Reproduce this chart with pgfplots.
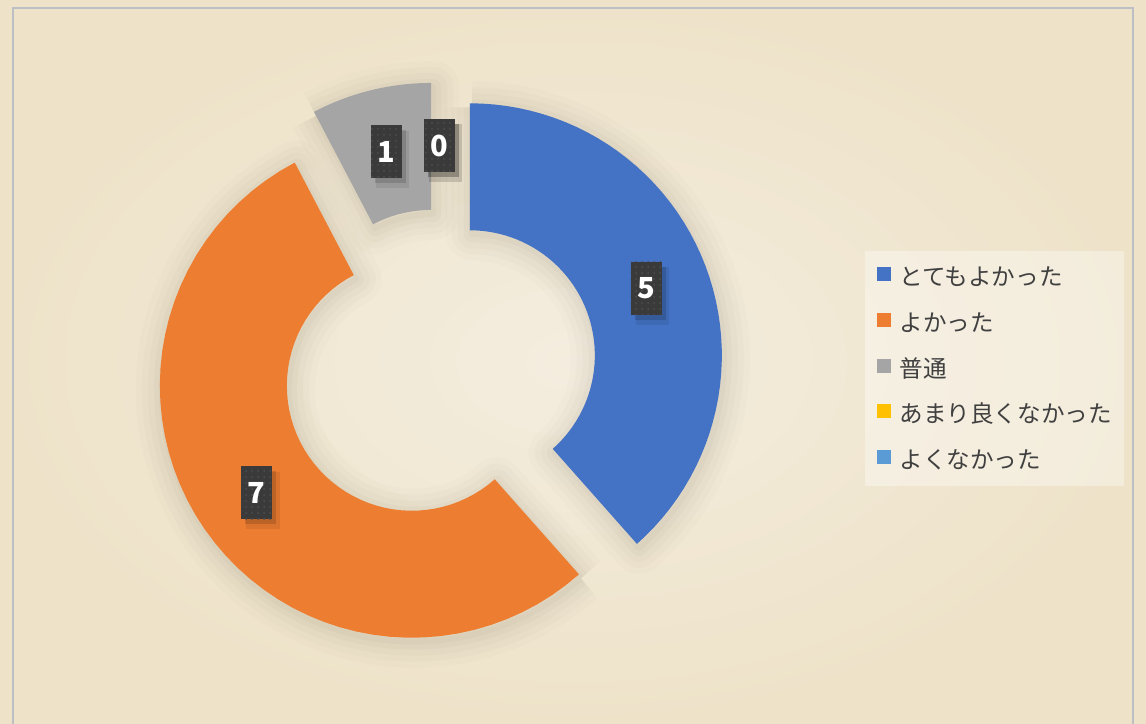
\documentclass[border=0pt]{standalone}
\usepackage{pgfplots}
\pgfplotsset{compat=1.18}
\usepackage{pgfplotstable}
\usepackage{fontspec}
\newfontfamily\jp{Noto Sans CJK JP}
\usetikzlibrary{shadows,patterns}
\definecolor{cblue}{HTML}{4472C4}
\definecolor{corange}{HTML}{ED7D31}
\definecolor{cgray}{HTML}{A5A5A5}
\definecolor{cyellow}{HTML}{FFC000}
\definecolor{clblue}{HTML}{5B9BD5}
\definecolor{bgbase}{HTML}{EEE3C9}
\definecolor{bglight}{HTML}{F4EDDF}
\definecolor{framegray}{HTML}{BCC0C4}
\definecolor{lblgray}{HTML}{3A3A3A}
\definecolor{dotgray}{HTML}{4E4E4E}
\definecolor{textgray}{HTML}{404040}
\definecolor{shcol}{HTML}{6B6250}

\pgfplotstableread{
idx value
0 5
1 7
2 1
3 0
4 0
}\datatable

% donut sector: [options]{start angle}{end angle}{shift x}{shift y}
% centre (439,356), outer radius 252, inner radius 125, explosion 33
\newcommand\sector[5][]{%
 \addplot[forget plot,#1,variable=\t,samples at={0,1,...,102}]
 ({#4+439+33*cos((#2+#3)/2)+ifthenelse(or(\t<50.5,\t>101.5),252,125)*cos(ifthenelse(\t<50.5,#2+(#3-(#2))*\t/50,ifthenelse(\t<101.5,#3-(#3-(#2))*(\t-51)/50,#2)))},
  {#5+356+33*sin((#2+#3)/2)+ifthenelse(or(\t<50.5,\t>101.5),252,125)*sin(ifthenelse(\t<50.5,#2+(#3-(#2))*\t/50,ifthenelse(\t<101.5,#3-(#3-(#2))*(\t-51)/50,#2)))});
}
\newcommand\sectorshadow[2]{%
 \sector[draw=shcol,line width=26pt,line join=round,draw opacity=0.018]{#1}{#2}{2}{-4}
 \sector[draw=shcol,line width=20pt,line join=round,draw opacity=0.022]{#1}{#2}{2}{-4}
 \sector[draw=shcol,line width=14pt,line join=round,draw opacity=0.028]{#1}{#2}{2}{-4}
 \sector[draw=shcol,line width=8pt,line join=round,draw opacity=0.035]{#1}{#2}{2}{-4}
 \sector[draw=shcol,line width=3pt,line join=round,draw opacity=0.04]{#1}{#2}{2}{-4}
}

\tikzset{lbl/.style={fill=lblgray,text=white,font=\jp\bfseries\fontsize{14.5}{15}\selectfont,
  minimum width=15.5pt,minimum height=26.5pt,inner sep=0pt,
  drop shadow={shadow xshift=3pt,shadow yshift=-3.5pt,shadow scale=1.08,opacity=0.08,fill=black},
  drop shadow={shadow xshift=2pt,shadow yshift=-2.5pt,opacity=0.14,fill=black},
  postaction={pattern=dots,pattern color=dotgray}}}

\begin{document}
\begin{tikzpicture}
\useasboundingbox (0,0) rectangle (573pt,361.5pt);
\fill[bgbase] (0,0) rectangle (573pt,361.5pt);
\shade[inner color=bglight,outer color=bgbase] (0,0) rectangle (573pt,361.5pt);
\draw[framegray,line width=1pt] (6.5pt,-5pt) -- (6.5pt,357.5pt) -- (566.5pt,357.5pt) -- (566.5pt,-5pt);

\pgfplotstablegetelem{0}{value}\of\datatable \let\vA\pgfplotsretval
\pgfplotstablegetelem{1}{value}\of\datatable \let\vB\pgfplotsretval
\pgfplotstablegetelem{2}{value}\of\datatable \let\vC\pgfplotsretval
\pgfplotstablegetelem{3}{value}\of\datatable \let\vD\pgfplotsretval
\pgfplotstablegetelem{4}{value}\of\datatable \let\vE\pgfplotsretval
\pgfmathsetmacro\tot{\vA+\vB+\vC+\vD+\vE}
\pgfmathsetmacro\sA{90}
\pgfmathsetmacro\eA{\sA-360*\vA/\tot}
\pgfmathsetmacro\eB{\eA-360*\vB/\tot}
\pgfmathsetmacro\eC{\eB-360*\vC/\tot}
\pgfmathsetmacro\eD{\eC-360*\vD/\tot}
\pgfmathsetmacro\eE{\eD-360*\vE/\tot}
\pgfmathsetmacro\mA{(\sA+\eA)/2}
\pgfmathsetmacro\mB{(\eA+\eB)/2}
\pgfmathsetmacro\mC{(\eB+\eC)/2}
\pgfmathsetmacro\mD{(\eC+\eD)/2}
\pgfmathsetmacro\mE{(\eD+\eE)/2}
\pgfmathsetmacro\lAx{439+221.5*cos(\mA)}\pgfmathsetmacro\lAy{356+221.5*sin(\mA)}
\pgfmathsetmacro\lBx{439+221.5*cos(\mB)}\pgfmathsetmacro\lBy{356+221.5*sin(\mB)}
\pgfmathsetmacro\lCx{439+221.5*cos(\mC)}\pgfmathsetmacro\lCy{356+221.5*sin(\mC)}
\pgfmathsetmacro\lDx{439+221.5*cos(\mD)}\pgfmathsetmacro\lDy{356+221.5*sin(\mD)}
\pgfmathsetmacro\lEx{439+221.5*cos(\mE)}\pgfmathsetmacro\lEy{356+221.5*sin(\mE)}

\begin{axis}[
  at={(0,0)},anchor=south west,
  scale only axis,width=573pt,height=361.5pt,
  xmin=0,xmax=1146,ymin=0,ymax=723,
  hide axis,clip=false,
  legend cell align=left,
  legend image code/.code={\fill[#1,fill opacity=1,draw=none] (0pt,-1pt) rectangle (7pt,6pt);
    \path[draw=none,fill=none] (0pt,7.8pt) -- (7pt,7.8pt);},
  legend style={at={(axis cs:865,472)},anchor=north west,
    draw=none,fill=white,fill opacity=0.35,text opacity=1,
    inner xsep=6pt,inner ysep=6pt,row sep=9.35pt,
    font=\jp\fontsize{11.8}{13}\selectfont,text=textgray,
    nodes={inner sep=0pt,text height=9pt,text depth=2.5pt},
    /tikz/every odd column/.append style={column sep=4pt}},
]
\sectorshadow{\sA}{\eA}
\sectorshadow{\eA}{\eB}
\sectorshadow{\eB}{\eC}
\sector[fill=cblue,draw=none]{\sA}{\eA}{0}{0}
\sector[fill=corange,draw=none]{\eA}{\eB}{0}{0}
\sector[fill=cgray,draw=none]{\eB}{\eC}{0}{0}

\addlegendimage{fill=cblue}\addlegendentry{とてもよかった}
\addlegendimage{fill=corange}\addlegendentry{よかった}
\addlegendimage{fill=cgray}\addlegendentry{普通}
\addlegendimage{fill=cyellow}\addlegendentry{あまり良くなかった}
\addlegendimage{fill=clblue}\addlegendentry{よくなかった}

\node[lbl] at (axis cs:\lAx,\lAy) {\vA};
\node[lbl] at (axis cs:\lBx,\lBy) {\vB};
\node[lbl] at (axis cs:\lCx,\lCy) {\vC};
\node[lbl] at (axis cs:\lEx,\lEy) {\vE};
\node[lbl] at (axis cs:\lDx,\lDy) {\vD};
\end{axis}
\end{tikzpicture}
\end{document}
